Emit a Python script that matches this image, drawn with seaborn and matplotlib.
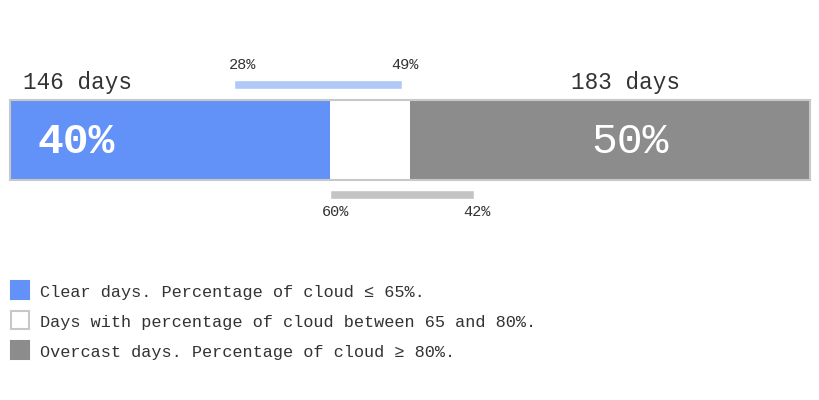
import matplotlib
matplotlib.use("Agg")
import matplotlib.pyplot as plt
import seaborn as sns
import pandas as pd

# Share of days in the year by cloud cover class (%)
categories = ["Clear", "Mixed", "Overcast"]
shares = [40, 10, 50]
day_counts = {"Clear": 146, "Overcast": 183}
colors = {"Clear": "#6292f8", "Mixed": "#ffffff", "Overcast": "#8c8c8c"}

# Range of clear days share over the years (%)
clear_range = [28, 49]
# Range of overcast days share over the years (%), measured from the right
overcast_range = [60, 42]

legend_labels = [
    "Clear days. Percentage of cloud ≤ 65%.",
    "Days with percentage of cloud between 65 and 80%.",
    "Overcast days. Percentage of cloud ≥ 80%.",
]

sns.set_theme(style="white")
plt.rcParams["font.family"] = ["Liberation Mono", "DejaVu Sans Mono"]
text_color = "#333333"

fig = plt.figure(figsize=(8.2, 4), dpi=100)

# main stacked bar, drawn back to front with cumulative widths
bar_ax = fig.add_axes([10 / 820, 220 / 400, 800 / 820, 80 / 400])
cum = pd.Series(shares, index=categories).cumsum()
for cat in reversed(categories):
    sns.barplot(
        x=[cum[cat]], y=["year"], orient="h", color=colors[cat],
        width=1.0, saturation=1, ax=bar_ax, linewidth=0,
    )
bar_ax.set_xlim(0, 100)
bar_ax.set_ylim(0.5, -0.5)
bar_ax.set_xticks([])
bar_ax.set_yticks([])
bar_ax.set_xlabel("")
bar_ax.set_ylabel("")
for spine in bar_ax.spines.values():
    spine.set_visible(True)
    spine.set_color("#c8c8c8")
    spine.set_linewidth(1.5)

# overlay axes on top: x in percent of the bar, y in pixels
ax = fig.add_axes([0, 0, 1, 1], zorder=5)
ax.patch.set_alpha(0)
ax.set_xlim(-1.25, 101.25)
ax.set_ylim(400, 0)
ax.axis("off")

small = dict(ha="center", va="center", fontsize=11, color=text_color)

# range bars
ax.barh(84.5, clear_range[1] - clear_range[0], left=clear_range[0],
        height=9, color="#b0c8f8")
ax.text(clear_range[0] + 1.1, 65, f"{clear_range[0]}%", **small)
ax.text(clear_range[1] + 0.4, 65, f"{clear_range[1]}%", **small)

ax.barh(194.5, overcast_range[0] - overcast_range[1], left=100 - overcast_range[0],
        height=9, color="#c4c4c4")
ax.text(100 - overcast_range[0] + 0.75, 212, f"{overcast_range[0]}%", **small)
ax.text(100 - overcast_range[1] + 0.4, 212, f"{overcast_range[1]}%", **small)

# day counts and shares
ax.text(1.6, 83, f"{day_counts['Clear']} days", ha="left", va="center",
        fontsize=16.3, color=text_color)
ax.text(70.1, 83, f"{day_counts['Overcast']} days", ha="left", va="center",
        fontsize=16.3, color=text_color)
ax.text(8.3, 142, f"{shares[0]}%", ha="center", va="center", fontsize=31,
        fontweight="bold", color="white")
ax.text(77.5, 142, f"{shares[2]}%", ha="center", va="center", fontsize=31,
        color="white")

# legend
for i, (cat, label) in enumerate(zip(categories, legend_labels)):
    y = 290 + 30 * i
    edge = "#c8c8c8" if cat == "Mixed" else colors[cat]
    ax.barh(y, 2.3, left=0.1, height=18, color=colors[cat], edgecolor=edge,
            linewidth=1.5)
    ax.text(3.75, y + 2, label, ha="left", va="center", fontsize=12.2,
            color=text_color)

fig.savefig("out.png", dpi=100, facecolor="white")
